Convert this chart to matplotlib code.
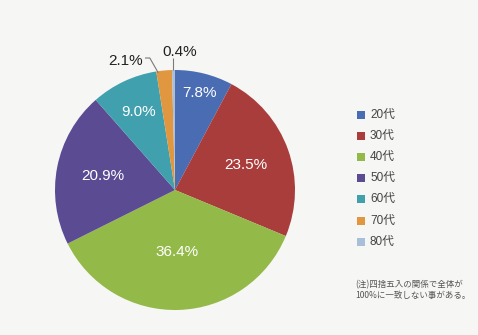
import matplotlib

matplotlib.use("Agg")
import matplotlib.pyplot as plt
import numpy as np
from matplotlib.patches import Rectangle

# age groups and their share (%)
ages = ["20代", "30代", "40代", "50代", "60代", "70代", "80代"]
shares = [7.8, 23.5, 36.4, 20.9, 9.0, 2.1, 0.4]
colors = ["#4a6cb2", "#a83d3b", "#93b948", "#5a4b93", "#40a0ae", "#e0973f", "#a9bed8"]
# radial position of the inside labels (fraction of radius), None = outside
label_r = [0.83, 0.63, 0.52, 0.61, 0.72, None, None]
note = "(注)四捨五入の関係で全体が\n100%に一致しない事がある。"

W, H = 478, 335
BG = "#f6f6f4"
LATIN = ["Liberation Sans", "Noto Sans CJK JP"]

fig = plt.figure(figsize=(W / 100, H / 100), dpi=100, facecolor=BG)

# pie axes: 240x240 px box centred at (175, 190)
cx, cy, R = 175, 190, 120
ax = fig.add_axes([(cx - R) / W, (H - cy - R) / H, 2 * R / W, 2 * R / H])
wedges, _ = ax.pie(shares, colors=colors, startangle=90, counterclock=False,
                   radius=1.0, wedgeprops=dict(linewidth=0))
ax.set_xlim(-1, 1)
ax.set_ylim(-1, 1)
ax.set_aspect("auto")
ax.axis("off")
ax.set_facecolor(BG)

for w, val, r in zip(wedges, shares, label_r):
    if r is None:
        continue
    mid = np.deg2rad((w.theta1 + w.theta2) / 2)
    ax.text(r * np.cos(mid), r * np.sin(mid), f"{val:.1f}%", color="white",
            fontsize=11, family=LATIN, ha="center", va="center")

# outside labels with leader lines
w70, w80 = wedges[5], wedges[6]
m70 = np.deg2rad((w70.theta1 + w70.theta2) / 2)
m80 = np.deg2rad((w80.theta1 + w80.theta2) / 2)
line_kw = dict(color="#7a7a7a", lw=0.8, solid_capstyle="butt")

ex, ey = 0.98 * np.cos(m70) - 0.05, 0.98 * np.sin(m70)
ax.plot([-0.25, -0.21, ex], [1.1, 1.1, ey], clip_on=False, **line_kw)
ax.text(-0.27, 1.075, f"{shares[5]:.1f}%", color="#222222", fontsize=11,
        family=LATIN, ha="right", va="center")

x80 = np.cos(m80)
ax.plot([x80, x80], [1.0, 1.1], clip_on=False, **line_kw)
ax.text(0.04, 1.15, f"{shares[6]:.1f}%", color="#222222", fontsize=11,
        family=LATIN, ha="center", va="center")

# overlay in pixel coordinates for the legend and the note
ov = fig.add_axes([0, 0, 1, 1], facecolor="none")
ov.set_xlim(0, W)
ov.set_ylim(H, 0)
ov.axis("off")

for i, (lab, col) in enumerate(zip(ages, colors)):
    y = 115 + i * 21.1
    ov.add_patch(Rectangle((357, y - 4), 8, 8, facecolor=col, edgecolor="none"))
    ov.text(370, y, lab, color="#444444", fontsize=8.5, family=LATIN,
            ha="left", va="center")

ov.text(355, 290, note, color="#555555", fontsize=6.1, family=["Noto Sans CJK JP"],
        ha="left", va="center", linespacing=1.35)

fig.savefig("out.png", dpi=100, facecolor=BG)
